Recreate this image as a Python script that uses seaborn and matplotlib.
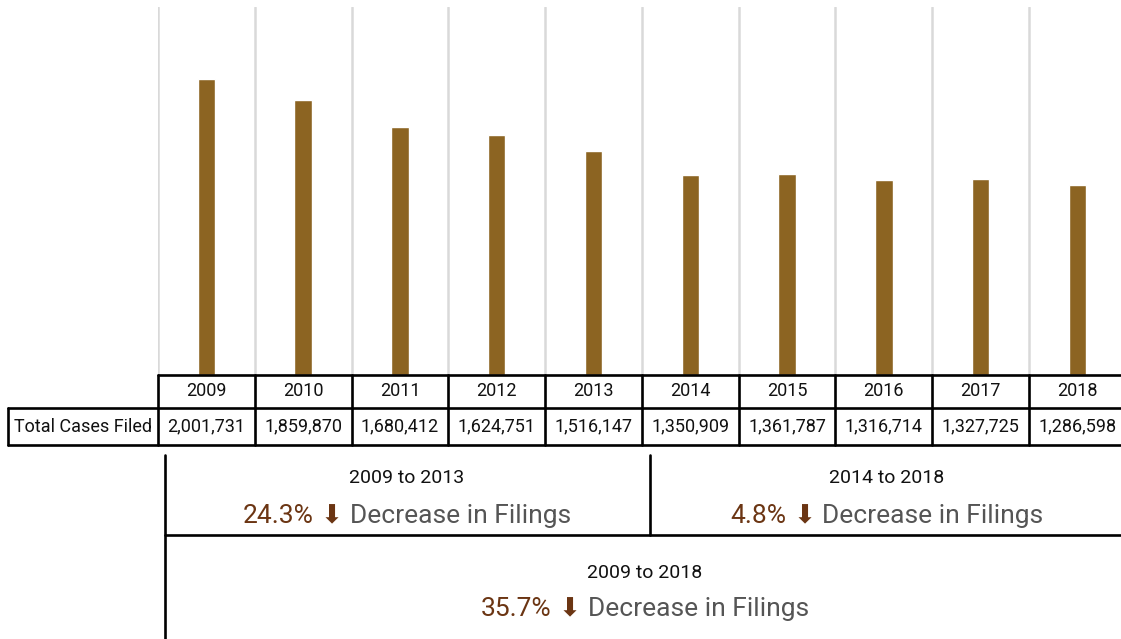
import numpy as np
import pandas as pd
import seaborn as sns
import matplotlib.pyplot as plt
from matplotlib.lines import Line2D
from matplotlib.transforms import blended_transform_factory

years = ["2009", "2010", "2011", "2012", "2013", "2014", "2015", "2016", "2017", "2018"]
cases = [2001731, 1859870, 1680412, 1624751, 1516147, 1350909, 1361787, 1316714, 1327725, 1286598]
row_label = "Total Cases Filed"
periods = ["2009 to 2013", "2014 to 2018", "2009 to 2018"]
pct_changes = ["24.3%", "4.8%", "35.7%"]
change_text = "Decrease in Filings"

BAR = "#8C6422"
BROWN = "#6B3513"
GREY = "#555555"
W, H = 1121, 639


def fx(px):
    return px / W


def fy(py):
    return 1 - py / H


def rich_line(fig, cx, cy, parts, size, gap=7):
    # place coloured pieces side by side, centred on cx (pixels)
    renderer = fig.canvas.get_renderer()
    texts = []
    for s, c, fam in parts:
        kw = {"family": fam} if fam else {}
        t = fig.text(0, fy(cy), s, color=c, fontsize=size, va="center", ha="left", **kw)
        texts.append(t)
    widths = [t.get_window_extent(renderer).width for t in texts]
    total = sum(widths) + gap * (len(texts) - 1)
    x = cx - total / 2
    for t, w in zip(texts, widths):
        t.set_x(fx(x))
        x += w + gap


sns.set_style("white")
plt.rcParams["font.family"] = ["Liberation Sans Narrow", "Roboto", "DejaVu Sans"]

df = pd.DataFrame({"year": years, "cases": cases})

fig = plt.figure(figsize=(11.21, 6.39), dpi=100)
ax = fig.add_axes([fx(158), fy(375), 967.8 / W, (375 - 7) / H])
sns.barplot(data=df, x="year", y="cases", color=BAR, width=0.18, saturation=1, ax=ax)
ax.set_xlim(-0.5, len(years) - 0.5)
ax.set_ylim(0, 2.49e6)
ax.set_xticks(np.arange(len(years) + 1) - 0.5)
ax.set_yticks([])
ax.tick_params(length=0, labelbottom=False)
ax.grid(axis="x", color="#d9d9d9", lw=1.8)
ax.set_axisbelow(True)
for s in ax.spines.values():
    s.set_visible(False)
ax.set_xlabel("")
ax.set_ylabel("")

# data table under the bars
trans = blended_transform_factory(ax.transData, fig.transFigure)
y0, y1, y2 = fy(375), fy(408), fy(445)
lw = 1.9
fig.add_artist(Line2D([fx(158), 1], [y0, y0], color="k", lw=lw))
fig.add_artist(Line2D([fx(8), 1], [y1, y1], color="k", lw=lw))
fig.add_artist(Line2D([fx(8), 1], [y2, y2], color="k", lw=lw))
fig.add_artist(Line2D([fx(8), fx(8)], [y1, y2], color="k", lw=lw))
for i in range(len(years) + 1):
    ax.plot([i - 0.5, i - 0.5], [y0, y2], color="k", lw=lw, transform=trans, clip_on=False)
for i, (yr, v) in enumerate(zip(years, cases)):
    ax.text(i, (y0 + y1) / 2, yr, transform=trans, ha="center", va="center", fontsize=13, color="#111111")
    ax.text(i, (y1 + y2) / 2, f"{v:,}", transform=trans, ha="center", va="center", fontsize=13, color="#111111")
fig.text(fx(83), (y1 + y2) / 2, row_label, ha="center", va="center", fontsize=13, color="#111111")

# summary boxes
fig.add_artist(Line2D([fx(165), fx(165)], [fy(455), 0], color="k", lw=lw))
fig.add_artist(Line2D([fx(650), fx(650)], [fy(455), fy(535)], color="k", lw=lw))
fig.add_artist(Line2D([fx(165), 1], [fy(535), fy(535)], color="k", lw=lw))

centers = [(407, 478, 516), (887, 478, 516), (645, 573, 609)]
for (cx, ty, ly), per, pct in zip(centers, periods, pct_changes):
    fig.text(fx(cx), fy(ty), per, ha="center", va="center", fontsize=14, color="#111111")
    rich_line(fig, cx, ly,
              [(pct, BROWN, None), ("\u2b07", BROWN, ["DejaVu Sans"]), (change_text, GREY, None)],
              19)

fig.savefig("out.png", dpi=100)
